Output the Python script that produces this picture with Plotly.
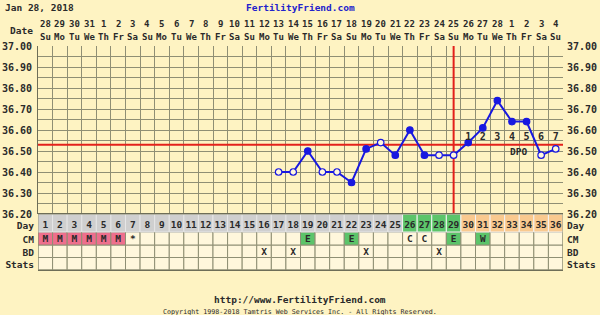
import plotly.graph_objects as go

# ---------------- data ----------------
dates = ["28","29","30","31","1","2","3","4","5","6","7","8","9","10","11","12","13","14",
         "15","16","17","18","19","20","21","22","23","24","25","26","27","28","1","2","3","4"]
weekdays = ["Su","Mo","Tu","We","Th","Fr","Sa","Su","Mo","Tu","We","Th","Fr","Sa","Su","Mo","Tu","We",
            "Th","Fr","Sa","Su","Mo","Tu","We","Th","Fr","Sa","Su","Mo","Tu","We","Th","Fr","Sa","Su"]
cycle_days = list(range(1, 37))

temp_days = list(range(17, 37))
temps = [36.40, 36.40, 36.50, 36.40, 36.40, 36.35, 36.51, 36.54, 36.48, 36.60,
         36.48, 36.48, 36.48, 36.54, 36.61, 36.74, 36.64, 36.64, 36.48, 36.51]
temp_open = [1, 1, 0, 1, 1, 0, 0, 1, 0, 0, 0, 1, 1, 0, 0, 0, 0, 0, 1, 1]

cm_days = [1, 2, 3, 4, 5, 6, 7, 19, 22, 26, 27, 29, 31]
cm_codes = ["M", "M", "M", "M", "M", "M", "*", "E", "E", "C", "C", "E", "W"]
bd_days = [16, 18, 23, 28]
bd_codes = ["X", "X", "X", "X"]

fertile_days = [26, 27, 28, 29]
luteal_days = [30, 31, 32, 33, 34, 35, 36]
dpo_days = [30, 31, 32, 33, 34, 35, 36]
dpo_labels = ["1", "2", "3", "4", "5", "6", "7"]

ovulation_day = 29
coverline = 36.53
temp_labels = ["36.20", "36.30", "36.40", "36.50", "36.60", "36.70", "36.80", "36.90", "37.00"]
row_names = ["Stats", "BD", "CM", "Day"]
row_edges = [0, 12.5, 25, 38, 56]
row_text_y = [5.5, 17.5, 30.5, 44.5]

# ---------------- style ----------------
W, H = 600, 315
ML, MR, MT, MB = 38, 37, 46, 45
PW, PH = W - ML - MR, H - MT - MB
BG = "#FEF3C2"
CELL = "#FFF7DC"
GRID = "#8f8f74"
TXT = "#2a2a2a"
BLUE = "#1818e0"
RED = "#e3201b"
GRAY = "#cfcfcf"
GREEN = "#5cc46a"
ORANGE = "#f9c98f"
PINK = "#ee6f8d"
FONT = "DejaVu Sans Mono"


def py(p):
    return (H - MB - p) / PH


def px(p):
    return (p - ML) / PW


fig = go.Figure()

# temperature line + markers
fig.add_trace(go.Scatter(
    x=temp_days, y=temps, mode="lines+markers", xaxis="x", yaxis="y",
    line=dict(color=BLUE, width=2),
    marker=dict(size=6.5, symbol="circle",
                color=[CELL if o else BLUE for o in temp_open],
                line=dict(color=BLUE, width=1.2)),
    hoverinfo="skip", showlegend=False))

# DPO numbers
fig.add_trace(go.Scatter(
    x=dpo_days, y=[36.563] * len(dpo_days), mode="text", text=["<b>%s</b>" % t for t in dpo_labels],
    textfont=dict(family=FONT, size=10, color=TXT), xaxis="x", yaxis="y",
    hoverinfo="skip", showlegend=False, cliponaxis=False))

# table text: day numbers, CM, BD
fig.add_trace(go.Scatter(
    x=cycle_days, y=[row_text_y[3]] * 36, mode="text", text=["<b>%d</b>" % d for d in cycle_days],
    textfont=dict(family=FONT, size=9.5, color=TXT), xaxis="x", yaxis="y2",
    hoverinfo="skip", showlegend=False, cliponaxis=False))
fig.add_trace(go.Scatter(
    x=cm_days, y=[row_text_y[2]] * len(cm_days), mode="text", text=["<b>%s</b>" % c for c in cm_codes],
    textfont=dict(family=FONT, size=9.5, color=TXT), xaxis="x", yaxis="y2",
    hoverinfo="skip", showlegend=False, cliponaxis=False))
fig.add_trace(go.Scatter(
    x=bd_days, y=[row_text_y[1]] * len(bd_days), mode="text", text=["<b>%s</b>" % c for c in bd_codes],
    textfont=dict(family=FONT, size=9.5, color=TXT), xaxis="x", yaxis="y2",
    hoverinfo="skip", showlegend=False, cliponaxis=False))
# invisible traces for the right-hand axes
fig.add_trace(go.Scatter(x=[1], y=[36.5], mode="markers", marker=dict(opacity=0),
                         xaxis="x", yaxis="y3", hoverinfo="skip", showlegend=False))
fig.add_trace(go.Scatter(x=[1], y=[5], mode="markers", marker=dict(opacity=0),
                         xaxis="x", yaxis="y4", hoverinfo="skip", showlegend=False))

shapes = []
# table cells
cm_map = dict(zip(cm_days, cm_codes))
for d in cycle_days:
    for r in range(4):
        fill = CELL
        lc = GRID
        if r == 3:
            fill = GREEN if d in fertile_days else (ORANGE if d in luteal_days else GRAY)
            lc = "#e6e6e6" if fill == GRAY else "#f3f3f3"
        elif r == 2 and d in cm_map:
            c = cm_map[d]
            if c == "M":
                fill = PINK
            elif c in ("E", "W"):
                fill = GREEN
        shapes.append(dict(type="rect", xref="x", yref="y2", x0=d - 0.5, x1=d + 0.5,
                           y0=row_edges[r], y1=row_edges[r + 1], fillcolor=fill,
                           line=dict(color=lc, width=1), layer="between"))
# table outer border
shapes.append(dict(type="rect", xref="x", yref="y2", x0=0.5, x1=36.5, y0=0, y1=56,
                   line=dict(color=GRID, width=1), layer="between"))
# ovulation + coverline
shapes.append(dict(type="line", xref="x", yref="y", x0=ovulation_day, x1=ovulation_day,
                   y0=36.2, y1=37.0, line=dict(color=RED, width=2), layer="between"))
shapes.append(dict(type="line", xref="x", yref="y", x0=0.5, x1=36.5,
                   y0=coverline, y1=coverline, line=dict(color=RED, width=2), layer="between"))

ann = []
ann.append(dict(text="<b>Jan 28, 2018</b>", x=px(3), y=py(8), xref="paper", yref="paper",
                xanchor="left", yanchor="middle", showarrow=False,
                font=dict(family=FONT, size=9.5, color=TXT)))
ann.append(dict(text="<b>FertilityFriend.com</b>", x=px(300), y=py(8), xref="paper", yref="paper",
                xanchor="center", yanchor="middle", showarrow=False,
                font=dict(family=FONT, size=9.5, color="#2222cc")))
ann.append(dict(text="<b>Date</b>", x=px(35), y=py(31), xref="paper", yref="paper",
                xanchor="right", yanchor="middle", showarrow=False,
                font=dict(family=FONT, size=9.5, color=TXT)))
for d, dt, wd in zip(cycle_days, dates, weekdays):
    ann.append(dict(text="<b>%s</b>" % dt, x=d, y=py(24), xref="x", yref="paper",
                    xanchor="center", yanchor="middle", showarrow=False,
                    font=dict(family=FONT, size=9, color=TXT)))
    ann.append(dict(text="<b>%s</b>" % wd, x=d, y=py(36.5), xref="x", yref="paper",
                    xanchor="center", yanchor="middle", showarrow=False,
                    font=dict(family=FONT, size=9, color=TXT)))
ann.append(dict(text="<b>DPO</b>", x=33.42, y=36.50, xref="x", yref="y",
                xanchor="center", yanchor="middle", showarrow=False,
                font=dict(family=FONT, size=9.5, color=TXT)))
ann.append(dict(text="<b>http://www.FertilityFriend.com</b>", x=px(300), y=py(299), xref="paper",
                yref="paper", xanchor="center", yanchor="middle", showarrow=False,
                font=dict(family=FONT, size=9.5, color=TXT)))
ann.append(dict(text="Copyright 1998-2018 Tamtris Web Services Inc. - All Rights Reserved.",
                x=px(300), y=py(312), xref="paper", yref="paper", xanchor="center",
                yanchor="middle", showarrow=False,
                font=dict(family=FONT, size=6.7, color=TXT)))

ytv = [round(36.2 + 0.05 * i, 2) for i in range(17)]
ytt = [("<b>%s</b>" % temp_labels[i // 2]) if i % 2 == 0 else "" for i in range(17)]
tempaxis = dict(range=[36.2, 37.0], domain=[0.25, 1], tickvals=ytv, ticktext=ytt,
                showgrid=True, gridcolor=GRID, gridwidth=1, zeroline=False,
                ticks="", automargin=False, fixedrange=True,
                tickfont=dict(family=FONT, size=10, color=TXT))
rowaxis = dict(range=[0, 56], domain=[0, 0.25], tickvals=row_text_y,
               ticktext=["<b>%s</b>" % r for r in row_names], showgrid=False, zeroline=False,
               ticks="", automargin=False, tickfont=dict(family=FONT, size=9.5, color=TXT))

fig.update_layout(
    width=W, height=H, margin=dict(l=ML, r=MR, t=MT, b=MB),
    paper_bgcolor=BG, plot_bgcolor=BG, showlegend=False,
    xaxis=dict(range=[0.5, 36.5], tickvals=[i + 0.5 for i in range(37)], showticklabels=False,
               showgrid=True, gridcolor=GRID, zeroline=False, ticks="", automargin=False,
               showline=True, linecolor="#6e6e58", mirror=True, anchor="y2"),
    yaxis=dict(**tempaxis, anchor="x", side="left", showline=True, linecolor="#6e6e58",
               ticklabelstandoff=3),
    yaxis3=dict(**tempaxis, anchor="x", side="right", overlaying="y", ticklabelstandoff=3),
    yaxis2=dict(**rowaxis, anchor="x", side="left", ticklabelstandoff=3),
    yaxis4=dict(**rowaxis, anchor="x", side="right", overlaying="y2", ticklabelstandoff=3),
    shapes=shapes, annotations=ann,
)

fig.write_html("out.html")
